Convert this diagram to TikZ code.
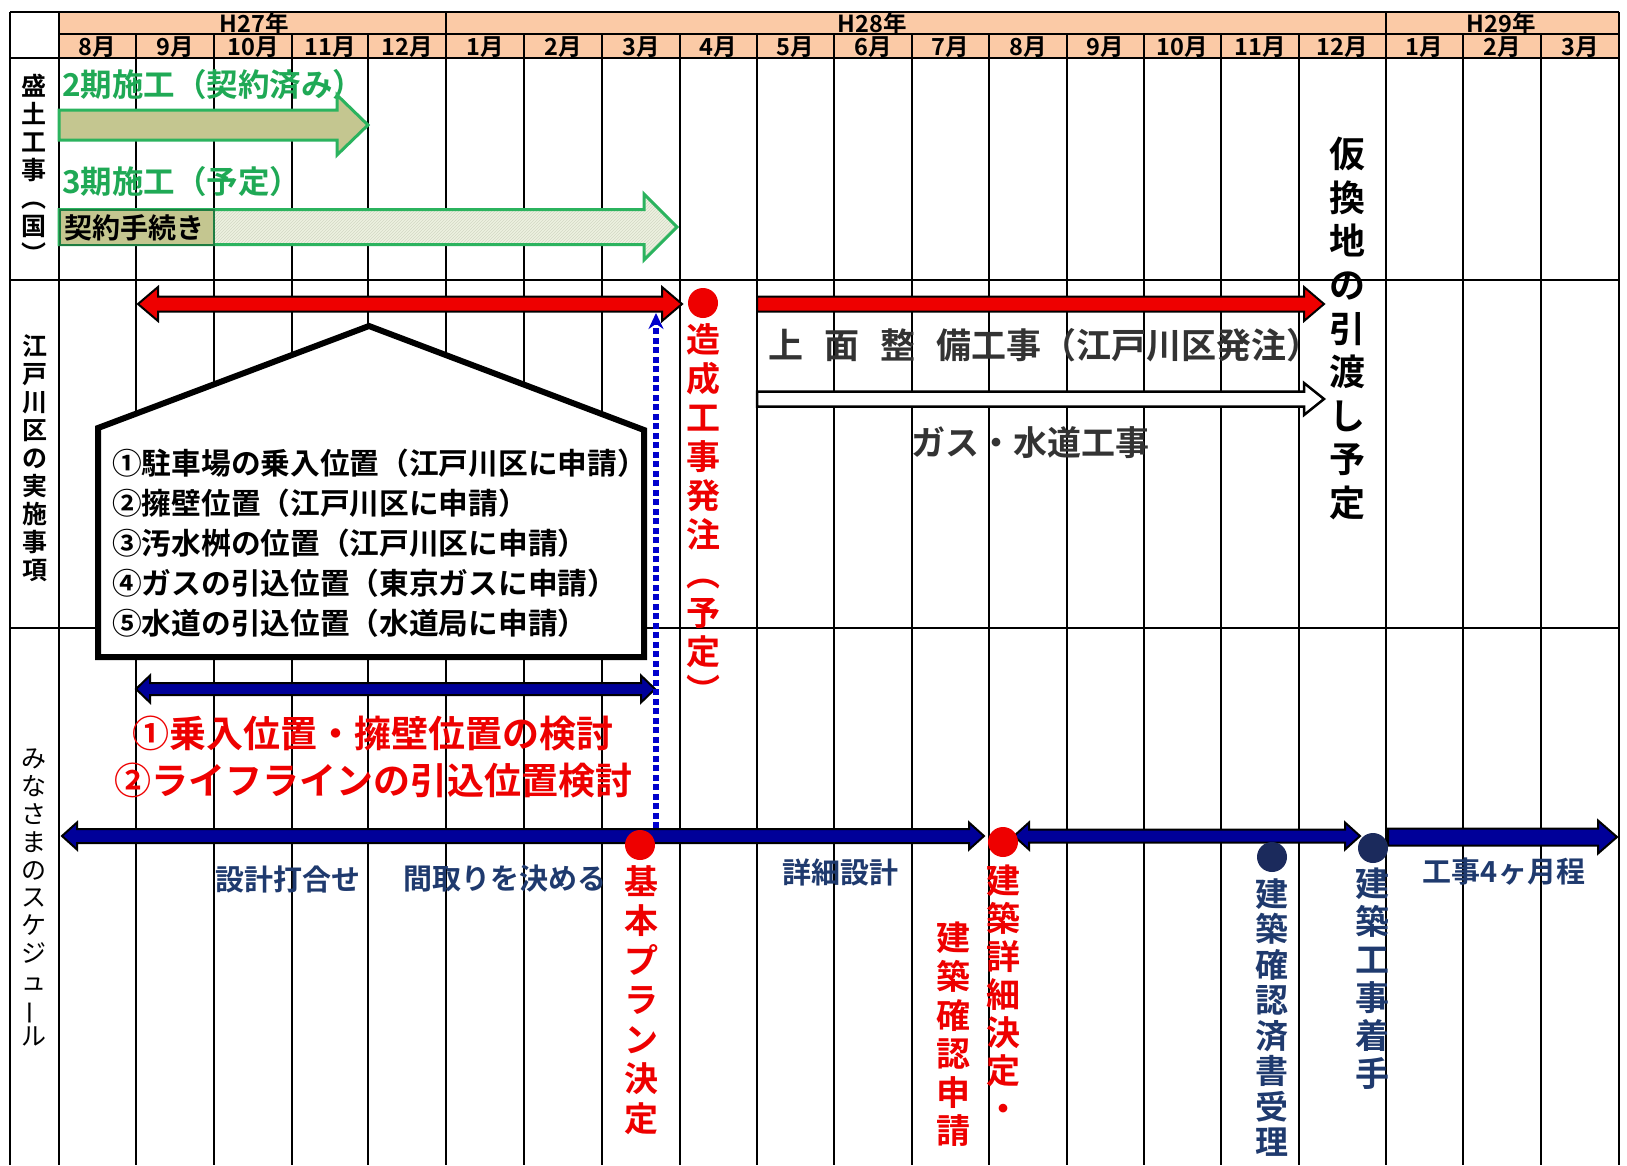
\documentclass[tikz,border=0pt]{standalone}
\usepackage{fontspec}
\setmainfont{Noto Sans CJK JP}[BoldFont={Noto Sans CJK JP Bold}]
\usetikzlibrary{calc,arrows.meta,patterns}
\definecolor{peach}{HTML}{FBCAA6}
\definecolor{gtext}{HTML}{1FA955}
\definecolor{gline}{HTML}{2BB35E}
\definecolor{khaki}{HTML}{C4C690}
\definecolor{lightg}{HTML}{EEF2E1}
\definecolor{hatch}{HTML}{D3D8C4}
\definecolor{rred}{HTML}{EE0000}
\definecolor{navy}{HTML}{000099}
\definecolor{dnavy}{HTML}{1B2A5C}
\definecolor{ntext}{HTML}{1F3A6E}
\definecolor{dgray}{HTML}{333333}
\definecolor{dotblue}{HTML}{0000CC}
% single-headed block arrow: style, start, end, half body, half head, head length
\newcommand\barR[6]{\path[#1] let \p1=(#2), \p2=(#3) in
  (\x1,\y1+#4pt) -- (\x2-#6pt,\y1+#4pt) -- (\x2-#6pt,\y1+#5pt) -- (\x2,\y1)
  -- (\x2-#6pt,\y1-#5pt) -- (\x2-#6pt,\y1-#4pt) -- (\x1,\y1-#4pt) -- cycle;}
% double-headed block arrow
\newcommand\barLR[6]{\path[#1] let \p1=(#2), \p2=(#3) in
  (\x1,\y1) -- (\x1+#6pt,\y1+#5pt) -- (\x1+#6pt,\y1+#4pt) -- (\x2-#6pt,\y1+#4pt)
  -- (\x2-#6pt,\y1+#5pt) -- (\x2,\y1) -- (\x2-#6pt,\y1-#5pt) -- (\x2-#6pt,\y1-#4pt)
  -- (\x1+#6pt,\y1-#4pt) -- (\x1+#6pt,\y1-#5pt) -- cycle;}
\begin{document}
\begin{tikzpicture}[x=1pt,y=-1pt,
  grid/.style={line width=1.4pt,black},
  hdr/.style={font=\fontsize{23.5}{24}\selectfont\bfseries,inner sep=0},
  vlab/.style={font=\fontsize{25}{28}\selectfont\bfseries,align=center,inner sep=0,anchor=north},
  vred/.style={font=\fontsize{34}{39}\selectfont\bfseries,align=center,inner sep=0,anchor=north,text=rred},
  vnavy/.style={font=\fontsize{34}{37}\selectfont\bfseries,align=center,inner sep=0,anchor=north,text=ntext},
  ntxt/.style={font=\fontsize{29}{32}\selectfont\bfseries,inner sep=0,text=ntext},
  gtxt/.style={font=\fontsize{31.5}{33}\selectfont\bfseries,inner sep=0,text=gtext,anchor=west},
  gtxt2/.style={font=\fontsize{34}{36}\selectfont\bfseries,inner sep=0,text=dgray},
  dot/.style={circle,inner sep=0,minimum size=30pt},
  redbar/.style={fill=rred,draw=black,line width=2pt,line join=miter},
  navybar/.style={fill=navy,draw=black,line width=2pt,line join=miter},
  whitebar/.style={fill=white,draw=black,line width=2.5pt,line join=miter},
  greenbar/.style={fill=khaki,draw=gline,line width=3pt,line join=miter},
  greenbar2/.style={preaction={fill=lightg},pattern=north east lines,pattern color=hatch,draw=gline,line width=3pt,line join=miter}]
\useasboundingbox (0,0) rectangle (1627,1165);
\clip (0,0) rectangle (1627,1165);
\fill[white] (0,0) rectangle (1627,1165);
% header
\fill[peach] (59,12) rectangle (1619,58);
\foreach \x in {136,214,292,368,524,602,680,757,834,912,989,1067,1144,1221,1299,1463,1541}
  \draw[grid] (\x,34) -- (\x,1165);
\foreach \x in {10,59,446,1386,1619}
  \draw[grid] (\x,12) -- (\x,1165);
\draw[grid] (10,12) -- (1619,12);
\draw[grid] (59,34) -- (1619,34);
\draw[grid] (10,58) -- (1619,58);
\draw[grid] (10,280) -- (1619,280);
\draw[grid] (10,628) -- (1619,628);
\node[hdr] (y27) at (254,24) {H27年};
\node[hdr] (y28) at (872,24) {H28年};
\node[hdr] (y29) at (1501,24) {H29年};
\foreach \xa/\xb/\m in {59/136/8月,136/214/9月,214/292/10月,292/368/11月,368/446/12月,
  446/524/1月,524/602/2月,602/680/3月,680/757/4月,757/834/5月,834/912/6月,912/989/7月,
  989/1067/8月,1067/1144/9月,1144/1221/10月,1221/1299/11月,1299/1386/12月,
  1386/1463/1月,1463/1541/2月,1541/1619/3月}
  \node[hdr] (m\xa) at ({(\xa+\xb)/2},47) {\m};
% row labels
\node[vlab] (lab1) at (34,74) {盛\\土\\工\\事\\︵\\国\\︶};
\node[vlab] (lab2) at (35,334) {江\\戸\\川\\区\\の\\実\\施\\事\\項};
\node[vlab,font=\fontsize{25}{27.8}\selectfont] (lab3) at (34,749)
  {み\\な\\さ\\ま\\の\\ス\\ケ\\ジ\\ュ\\\rotatebox[origin=c]{90}{ー}\\ル};
% row 1: 盛土工事
\node[gtxt] (t2ki) at (62,85) {2期施工（契約済み）};
\coordinate (g1s) at (59,125); \coordinate (g1e) at (368,125);
\barR{greenbar}{g1s}{g1e}{15}{30}{31}
\node[gtxt] (t3ki) at (62,182) {3期施工（予定）};
\coordinate (g2s) at (59,227); \coordinate (g2e) at (677,227);
\barR{greenbar2}{g2s}{g2e}{17.5}{33}{33}
\draw[fill=khaki,draw=gline!70!black,line width=2pt] (60,210) rectangle (214,245);
\node[font=\fontsize{28}{30}\selectfont\bfseries,inner sep=0,anchor=west] (keiyaku) at (64,228) {契約手続き};
% row 2: 江戸川区
\coordinate (r1s) at (138,304); \coordinate (r1e) at (682,304);
\barLR{redbar}{r1s}{r1e}{7.5}{17}{20}
\node[dot,fill=rred] (zdot) at (703,303) {};
\node[vred] (zosei) at (703,323) {造\\成\\工\\事\\発\\注\\︵\\予\\定\\︶};
\coordinate (r2s) at (757,304); \coordinate (r2e) at (1324,304);
\barR{redbar}{r2s}{r2e}{7.5}{17}{20}
\node[gtxt2,anchor=west,font=\fontsize{35}{36}\selectfont\bfseries] (jomen) at (768,345) {上\hspace{0.6em}面\hspace{0.6em}整\hspace{0.6em}備工事（江戸川区発注）};
\coordinate (w1s) at (757,399); \coordinate (w1e) at (1324,399);
\barR{whitebar}{w1s}{w1e}{7.5}{16}{20}
\node[gtxt2] (gas) at (1030,443) {ガス・水道工事};
\node[font=\fontsize{36}{43.6}\selectfont\bfseries,align=center,inner sep=0,anchor=north] (kari) at (1347,137)
  {仮\\換\\地\\の\\引\\渡\\し\\予\\定};
% pentagon callout
\draw[line width=6pt,fill=white,line join=miter] (98,428) -- (369,326) -- (644,430) -- (644,657) -- (98,657) -- cycle;
\node[font=\fontsize{29.7}{40}\selectfont\bfseries,align=left,inner sep=0,anchor=west] (items) at (112,543)
  {①駐車場の乗入位置（江戸川区に申請）\\②擁壁位置（江戸川区に申請）\\③汚水桝の位置（江戸川区に申請）\\④ガスの引込位置（東京ガスに申請）\\⑤水道の引込位置（水道局に申請）};
% row 3: みなさまのスケジュール
\coordinate (b1s) at (136,689); \coordinate (b1e) at (655,689);
\barLR{navybar}{b1s}{b1e}{6}{13.5}{14}
\node[font=\fontsize{37}{47}\selectfont\bfseries,align=center,inner sep=0,text=rred] (kento) at (373,757)
  {①乗入位置・擁壁位置の検討\\②ライフラインの引込位置検討};
\coordinate (s1s) at (62,836); \coordinate (s1e) at (984,836);
\barLR{navybar}{s1s}{s1e}{7}{13.5}{15}
\coordinate (s2s) at (1014,836); \coordinate (s2e) at (1360,836);
\barLR{navybar}{s2s}{s2e}{6.5}{13.5}{15}
\coordinate (s3s) at (1388,837); \coordinate (s3e) at (1617,837);
\barR{navybar}{s3s}{s3e}{8.5}{16.5}{19}
\coordinate (dbot) at (656,828); \coordinate (dtop) at (656,313);
\draw[dotblue,line width=6pt,dash pattern=on 6pt off 3.5pt,-{Stealth[length=16pt,width=15pt]}] (dbot) -- (dtop);
\node[dot,fill=rred] (kdot) at (640,845) {};
\node[dot,fill=rred] (sdot) at (1003,842) {};
\node[dot,fill=dnavy] (cdot) at (1272,857) {};
\node[dot,fill=dnavy] (ndot) at (1373,848) {};
\node[ntxt] (uchi) at (288,879) {設計打合せ};
\node[ntxt] (madori) at (505,879) {間取りを決める};
\node[ntxt] (shosai) at (840,872) {詳細設計};
\node[ntxt] (koji4) at (1504,872) {工事4ヶ月程};
\node[vred,font=\fontsize{34}{39.5}\selectfont\bfseries] (kihon) at (641,865) {基\\本\\プ\\ラ\\ン\\決\\定};
\node[vred,font=\fontsize{34}{38}\selectfont\bfseries] (kshosai) at (1003,865) {建\\築\\詳\\細\\決\\定\\・};
\node[vred,font=\fontsize{34}{38.6}\selectfont\bfseries] (kshinsei) at (953,922) {建\\築\\確\\認\\申\\請};
\node[vnavy,font=\fontsize{33}{35.5}\selectfont\bfseries] (kjuri) at (1272,878) {建\\築\\確\\認\\済\\書\\受\\理};
\node[vnavy,font=\fontsize{34}{38}\selectfont\bfseries] (kchaku) at (1372,868) {建\\築\\工\\事\\着\\手};
\end{tikzpicture}
\end{document}
